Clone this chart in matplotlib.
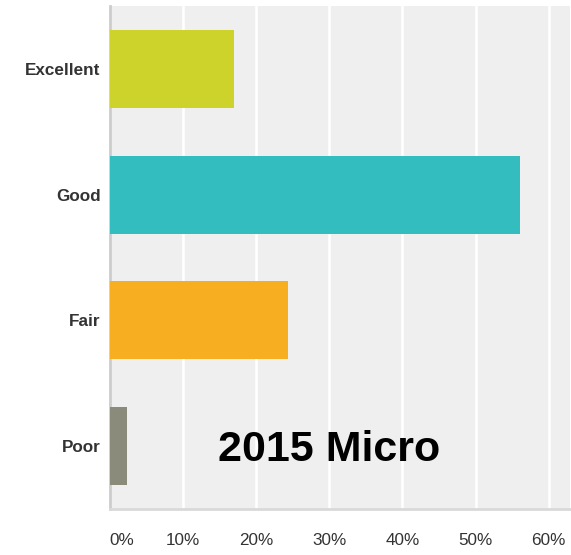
import matplotlib
matplotlib.use("Agg")
import matplotlib.pyplot as plt
from matplotlib.ticker import FuncFormatter

categories = ["Excellent", "Good", "Fair", "Poor"]
values = [17.0, 56.1, 24.4, 2.4]
colors = ["#cdd32a", "#33bdbf", "#f8ae21", "#8b8b7b"]
ticks = [0, 10, 20, 30, 40, 50, 60]

plt.rcParams['font.family'] = ['Liberation Sans', 'DejaVu Sans']

W, H = 571, 555
fig = plt.figure(figsize=(W/100, H/100), dpi=100)
ax = fig.add_axes([109.5/W, (H-509)/H, (570-109.5)/W, (509-6)/H])
ax.set_facecolor("#efefef")

ypos = list(range(len(categories)))
ax.barh(ypos, values, height=0.62, color=colors, zorder=3)
ax.set_ylim(3.5, -0.5)
ax.set_xlim(0, 62.9)

ax.set_xticks(ticks)
ax.xaxis.set_major_formatter(FuncFormatter(lambda v, p: f"{int(v)}%"))
ax.grid(axis='x', color='white', linewidth=1.8, zorder=1)
ax.set_yticks(ypos)
ax.set_yticklabels(categories, fontsize=12.3, fontweight='bold', color='#333333')
ax.tick_params(axis='y', length=0, pad=6.5)
ax.tick_params(axis='x', length=0, pad=17, labelsize=12.3, labelcolor='#333333')

for s in ['top', 'right']:
    ax.spines[s].set_visible(False)
ax.spines['left'].set_color('#cccccc')
ax.spines['left'].set_linewidth(2)
ax.spines['bottom'].set_color('#d9d9d9')
ax.spines['bottom'].set_linewidth(2)

fig.canvas.draw()
xl = ax.get_xticklabels()
xl[0].set_horizontalalignment('left')

ax.text(0.477, 0.117, "2015 Micro", transform=ax.transAxes, fontsize=31,
        fontweight='bold', color='black', ha='center', va='center', zorder=5)

fig.savefig("out.png", dpi=100)
